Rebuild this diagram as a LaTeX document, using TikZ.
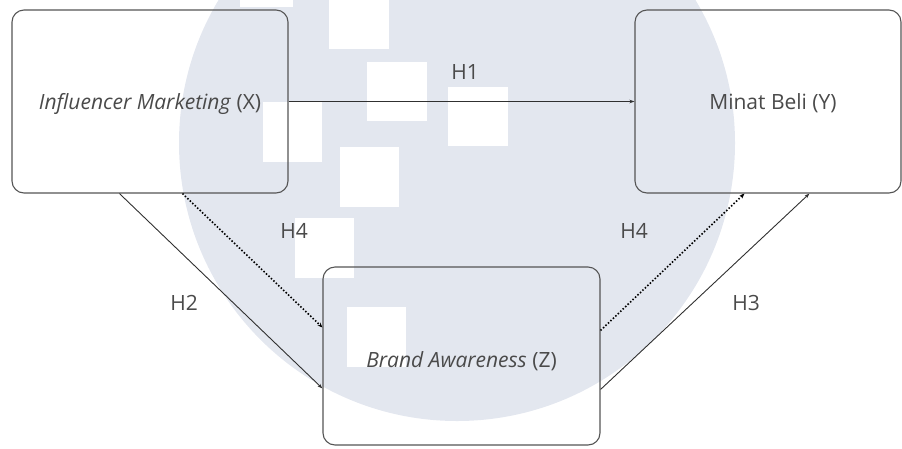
\documentclass[tikz,border=0pt]{standalone}
\usepackage{fontspec}
\setmainfont{Open Sans}
\usetikzlibrary{arrows.meta,calc}
\definecolor{wm}{HTML}{E3E7EF}
\definecolor{txt}{HTML}{4A4A4A}
\definecolor{bord}{HTML}{555555}
\definecolor{ln}{HTML}{303030}
\tikzset{
  varbox/.style={draw=bord, line width=1.1pt, rounded corners=12pt, inner sep=0pt},
  lbl/.style={text=txt, font=\fontsize{21}{24}\selectfont, inner sep=0pt},
  path1/.style={draw=ln, line width=0.9pt, -{Stealth[length=5pt,width=3.5pt]}},
  path2/.style={draw=black, line width=1.6pt, dash pattern=on 1.5pt off 1.9pt, -{Stealth[length=5pt,width=4pt]}},
  wsq/.style={fill=white, draw=none}
}
\begin{document}
\begin{tikzpicture}[x=1pt,y=-1pt]
\useasboundingbox (0,0) rectangle (902,448);
% watermark
\fill[wm] (457,143) circle (278pt);
\fill[wsq] (240,0) rectangle (293,7);
\fill[wsq] (329,0) rectangle (389,49);
\fill[wsq] (367,62) rectangle (427,121);
\fill[wsq] (448,87) rectangle (508,146);
\fill[wsq] (263,102) rectangle (322,162);
\fill[wsq] (340,147) rectangle (399,207);
\fill[wsq] (295,218) rectangle (354,278);
\fill[wsq] (347,307) rectangle (406,367);
% boxes
\node[varbox, minimum width=276pt, minimum height=183pt,
  label={[lbl,yshift=-2pt]center:{\textit{Influencer Marketing} (X)}}] (X) at (150,101.5) {};
\node[varbox, minimum width=266pt, minimum height=183pt,
  label={[lbl,xshift=5pt,yshift=-2pt]center:{Minat Beli (Y)}}] (Y) at (768,101.5) {};
\node[varbox, minimum width=277pt, minimum height=178pt,
  label={[lbl,yshift=-5pt]center:{\textit{Brand Awareness} (Z)}}] (Z) at (461.5,356) {};
% anchor points
\coordinate (xs1) at ([xshift=108pt]X.south west);
\coordinate (xs2) at ([xshift=171pt]X.south west);
\coordinate (ys1) at ([xshift=110pt]Y.south west);
\coordinate (ys2) at ([xshift=175pt]Y.south west);
\coordinate (zw1) at ([yshift=-61pt]Z.north west);
\coordinate (zw2) at ([yshift=-122pt]Z.north west);
\coordinate (ze1) at ([yshift=-64pt]Z.north east);
\coordinate (ze2) at ([yshift=-123pt]Z.north east);
% connectors
\draw[path1] (X.east) -- (Y.west);
\draw[path1] (xs1) -- (zw2);
\draw[path2] (xs2) -- (zw1);
\draw[path2] (ze1) -- (ys1);
\draw[path1] (ze2) -- (ys2);
% labels
\node[lbl] (h1) at (465,72) {H1};
\node[lbl] (h4a) at (294,231) {H4};
\node[lbl] (h4b) at (634,231) {H4};
\node[lbl] (h2) at (184,303) {H2};
\node[lbl] (h3) at (746,303) {H3};
\end{tikzpicture}
\end{document}
